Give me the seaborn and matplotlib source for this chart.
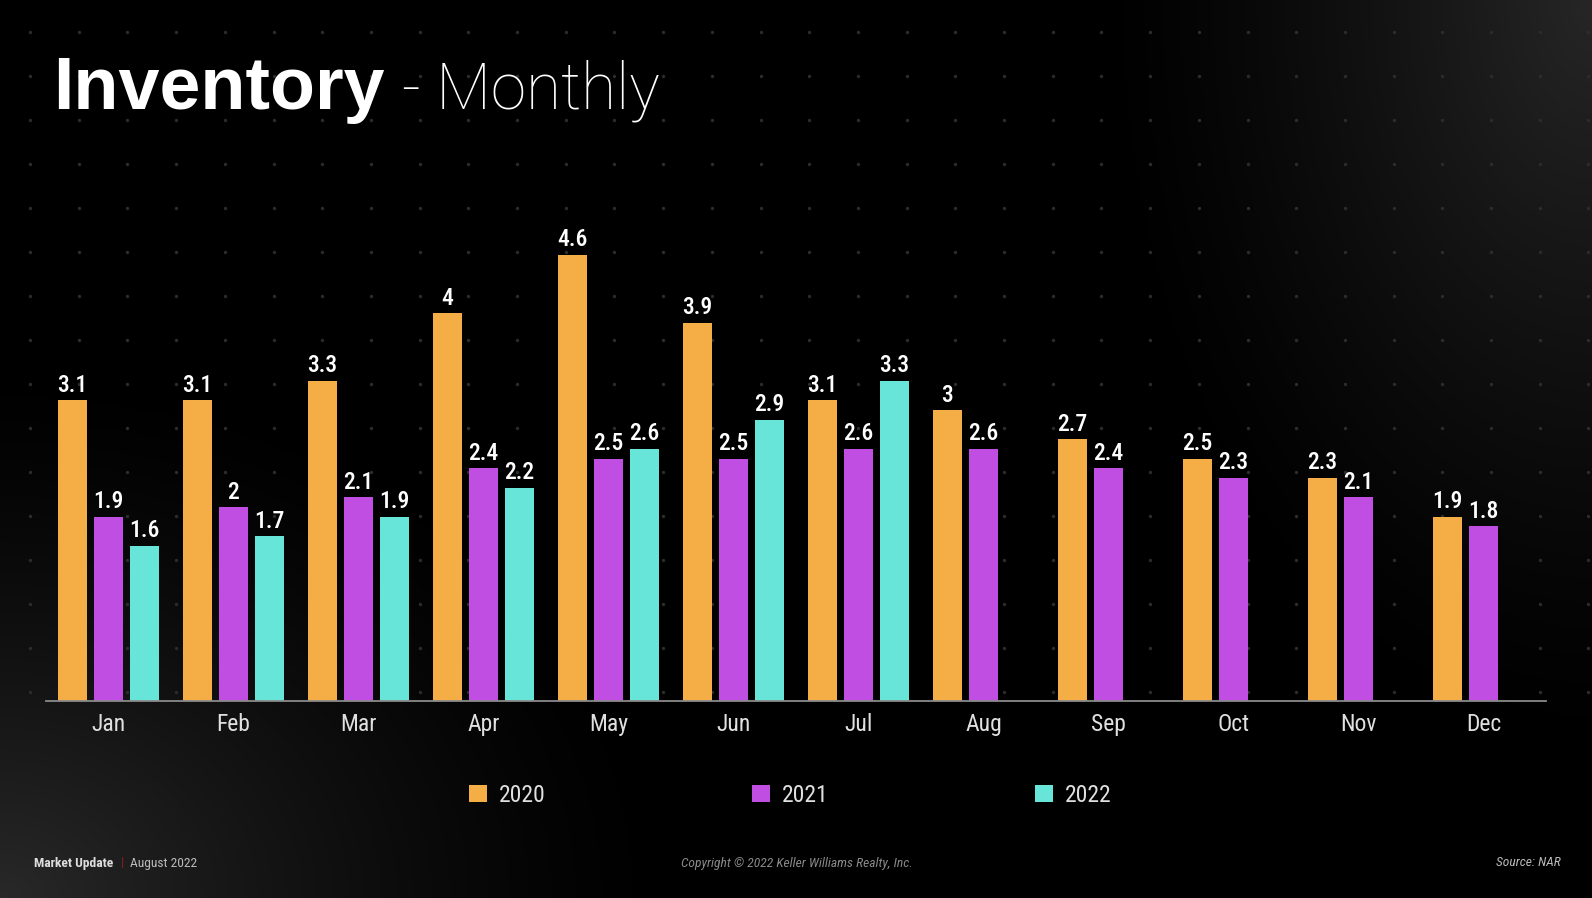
import numpy as np
import pandas as pd
import matplotlib
matplotlib.use("Agg")
import matplotlib.pyplot as plt
import seaborn as sns
from matplotlib import font_manager as fm

# ---------------- data ----------------
months = ["Jan", "Feb", "Mar", "Apr", "May", "Jun",
          "Jul", "Aug", "Sep", "Oct", "Nov", "Dec"]
years = ["2020", "2021", "2022"]
inv_2020 = [3.1, 3.1, 3.3, 4.0, 4.6, 3.9, 3.1, 3.0, 2.7, 2.5, 2.3, 1.9]
inv_2021 = [1.9, 2.0, 2.1, 2.4, 2.5, 2.5, 2.6, 2.6, 2.4, 2.3, 2.1, 1.8]
inv_2022 = [1.6, 1.7, 1.9, 2.2, 2.6, 2.9, 3.3, None, None, None, None, None]
colors = ["#F5AD45", "#C04EE3", "#67E5D8"]

rows = []
for yr, vals in zip(years, [inv_2020, inv_2021, inv_2022]):
    for m, v in zip(months, vals):
        if v is not None:
            rows.append({"month": m, "year": yr, "value": v})
df = pd.DataFrame(rows)

# ---------------- style ----------------
sns.set_theme(style="dark")
avail = {f.name for f in fm.fontManager.ttflist}


def pick(cands):
    for c in cands:
        if c in avail:
            return c
    return "DejaVu Sans"


narrow = pick(["Roboto Condensed", "Archivo Narrow", "IBM Plex Sans Condensed",
               "Liberation Sans Narrow", "Liberation Sans"])
plt.rcParams["font.family"] = [narrow, "DejaVu Sans"]
plt.rcParams["axes.facecolor"] = "none"

W, H = 1592, 898
fig = plt.figure(figsize=(W / 100, H / 100), dpi=100, facecolor="black")

# background: gradient texture and dot grid
bg = fig.add_axes([0, 0, 1, 1], zorder=0)
yy, xx = np.mgrid[0:H:2, 0:W:2].astype(float)
bl = np.clip(1 - np.hypot(xx / 680, (H - yy) / 540), 0, 1) ** 1.4
tr = np.clip(1 - np.hypot((W - xx) / 500, yy / 760), 0, 1) ** 1.3
g = np.clip(0.16 * bl + 0.15 * tr, 0, 1)
bg.imshow(np.dstack([g, g, g]), extent=(0, W, H, 0), aspect="auto",
          interpolation="bilinear")
dx = 30 + 48.7 * np.arange(33)
dy = 31.7 + 44 * np.arange(16)
DX, DY = np.meshgrid(dx, dy)
bg.scatter(DX.ravel(), DY.ravel(), s=6, color="#2c2c2c", linewidths=0)
bg.set_xlim(0, W)
bg.set_ylim(H, 0)
bg.axis("off")

# main axes
ax = fig.add_axes([46 / W, (H - 701) / H, 1500 / W, 485 / H], zorder=1)
ax.set_facecolor("none")
sns.barplot(data=df, x="month", y="value", hue="year", order=months,
            hue_order=years, palette=colors, saturation=1, width=0.864,
            gap=0.222, errorbar=None, linewidth=0, edgecolor="none", ax=ax)
ax.set_xlim(-0.5, 11.5)
ax.set_ylim(0, 5)
ax.set_xlabel("")
ax.set_ylabel("")
ax.set_yticks([])
ax.grid(False)
for s in ["top", "right", "left"]:
    ax.spines[s].set_visible(False)
ax.spines["bottom"].set_color("#8a8a8a")
ax.spines["bottom"].set_linewidth(1.3)
ax.tick_params(axis="x", length=0, pad=8.5, labelsize=17, labelcolor="#e0e0e0")

for cont in ax.containers:
    ax.bar_label(cont, fmt="%g", padding=2.5, fontsize=17, color="white",
                 fontweight=500)

handles, labels = ax.get_legend_handles_labels()
ax.legend_.remove()
fig.legend(handles, labels, loc="center", ncol=3,
           bbox_to_anchor=(790 / W, 1 - 795 / H), frameon=False,
           fontsize=17, labelcolor="#e0e0e0", handlelength=0.76,
           handleheight=0.76, handletextpad=0.5, columnspacing=8.75)

# titles
fig.text(53 / W, 1 - 109 / H, "Inventory", fontsize=53, fontweight="bold",
         family=["Liberation Sans", "DejaVu Sans"], color="white", va="baseline")
fig.text(402 / W, 1 - 109 / H, "- Monthly", fontsize=46, fontweight="light",
         family=["Roboto", "DejaVu Sans"], color="white", va="baseline")

# footer
fs = 9.7
fig.text(34 / W, 1 - 863 / H, "Market Update", fontsize=fs, fontweight="bold",
         color="#dddddd", va="center")
fig.text(121 / W, 1 - 863 / H, "|", fontsize=fs, color="#8b1c1c", va="center")
fig.text(130 / W, 1 - 863 / H, "August 2022", fontsize=fs, color="#bbbbbb",
         va="center")
fig.text(797 / W, 1 - 863 / H, "Copyright \u00a9 2022 Keller Williams Realty, Inc.",
         fontsize=fs, style="italic", color="#8a8a8a", va="center", ha="center")
fig.text(1561 / W, 1 - 863 / H, "Source: NAR", fontsize=fs, style="italic",
         color="#bbbbbb", va="center", ha="right")

fig.savefig("out.png", dpi=100, facecolor="black")
